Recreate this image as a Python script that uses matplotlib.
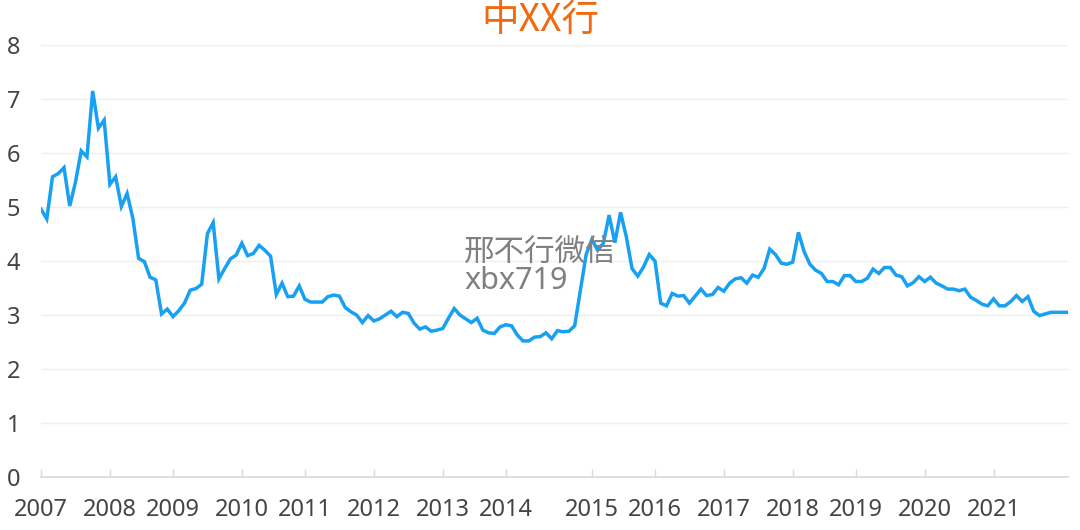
import matplotlib
matplotlib.use("Agg")
import matplotlib.pyplot as plt

plt.rcParams['font.family'] = ['Noto Sans', 'Noto Sans CJK SC', 'DejaVu Sans']

title = "中XX行"
watermark = ["邢不行微信", "xbx719"]

year_labels = ["2007", "2008", "2009", "2010", "2011", "2012", "2013", "2014",
               "2015", "2016", "2017", "2018", "2019", "2020", "2021"]
# index of the first point of each year on the category axis
year_start_idx = [0, 12, 23, 35, 46, 58, 70, 81, 96, 107, 119, 131, 142, 154, 166]

pe_values = [
    4.96, 4.78, 5.56, 5.62, 5.73, 5.02, 5.46, 6.04, 5.93, 7.15,
    6.46, 6.61, 5.42, 5.56, 5.01, 5.25, 4.79, 4.05, 3.99, 3.70,
    3.65, 3.02, 3.11, 2.97, 3.08, 3.22, 3.46, 3.49, 3.57, 4.51,
    4.71, 3.67, 3.86, 4.04, 4.11, 4.33, 4.10, 4.14, 4.29, 4.20,
    4.09, 3.38, 3.59, 3.34, 3.35, 3.54, 3.29, 3.24, 3.24, 3.24,
    3.34, 3.37, 3.35, 3.14, 3.06, 3.00, 2.86, 2.99, 2.89, 2.93,
    3.00, 3.07, 2.97, 3.05, 3.03, 2.85, 2.74, 2.78, 2.70, 2.72,
    2.75, 2.94, 3.12, 3.00, 2.93, 2.86, 2.94, 2.72, 2.67, 2.66,
    2.78, 2.82, 2.80, 2.63, 2.52, 2.52, 2.59, 2.60, 2.67, 2.56,
    2.71, 2.69, 2.70, 2.80, 3.46, 4.12, 4.40, 4.20, 4.33, 4.85,
    4.34, 4.90, 4.45, 3.86, 3.72, 3.89, 4.12, 4.00, 3.22, 3.17,
    3.40, 3.35, 3.36, 3.22, 3.35, 3.48, 3.36, 3.38, 3.51, 3.44,
    3.59, 3.67, 3.69, 3.59, 3.74, 3.70, 3.86, 4.22, 4.12, 3.96,
    3.94, 3.98, 4.53, 4.17, 3.94, 3.83, 3.77, 3.62, 3.62, 3.56,
    3.73, 3.73, 3.62, 3.62, 3.68, 3.85, 3.77, 3.88, 3.88, 3.74,
    3.71, 3.54, 3.60, 3.71, 3.62, 3.70, 3.59, 3.54, 3.48, 3.48,
    3.45, 3.48, 3.33, 3.27, 3.20, 3.17, 3.30, 3.17, 3.17, 3.25,
    3.36, 3.25, 3.34, 3.07, 2.99, 3.02, 3.05, 3.05, 3.05, 3.05,
]
y_ticks = [0, 1, 2, 3, 4, 5, 6, 7, 8]

fig = plt.figure(figsize=(10.8, 5.3), dpi=100)
ax = fig.add_axes([0.038, 0.1, 0.951, 0.815])

ax.plot(range(len(pe_values)), pe_values, color='#18A0F2', lw=2.5,
        solid_joinstyle='miter', zorder=3)

ax.set_xlim(0, len(pe_values) - 1)
ax.set_ylim(0, 8)
ax.set_yticks(y_ticks)
ax.set_xticks(year_start_idx)
ax.set_xticklabels(year_labels)

for s in ['left', 'right', 'top']:
    ax.spines[s].set_visible(False)
ax.spines['bottom'].set_color('#d9d9d9')
ax.spines['bottom'].set_linewidth(1.2)

ax.grid(axis='y', color='#eeeeee', lw=1)
ax.set_axisbelow(True)
ax.tick_params(axis='y', length=0, pad=15, labelsize=17, labelcolor='#444444')
ax.tick_params(axis='x', direction='in', length=6, width=1, color='#d9d9d9',
               pad=15, labelsize=17, labelcolor='#444444')

fig.text(0.5, 0.962, title, ha='center', va='center', fontsize=27,
         color='#F06A10', family=['Noto Sans CJK SC'])

fig.text(0.430, 1 - 252 / 530, watermark[0], ha='left', va='center',
         fontsize=22, color='#808080', zorder=10, family=['Noto Sans CJK SC'])
fig.text(0.430, 1 - 281 / 530, watermark[1], ha='left', va='center',
         fontsize=22, color='#808080', zorder=10)

fig.savefig('out.png', dpi=100)
